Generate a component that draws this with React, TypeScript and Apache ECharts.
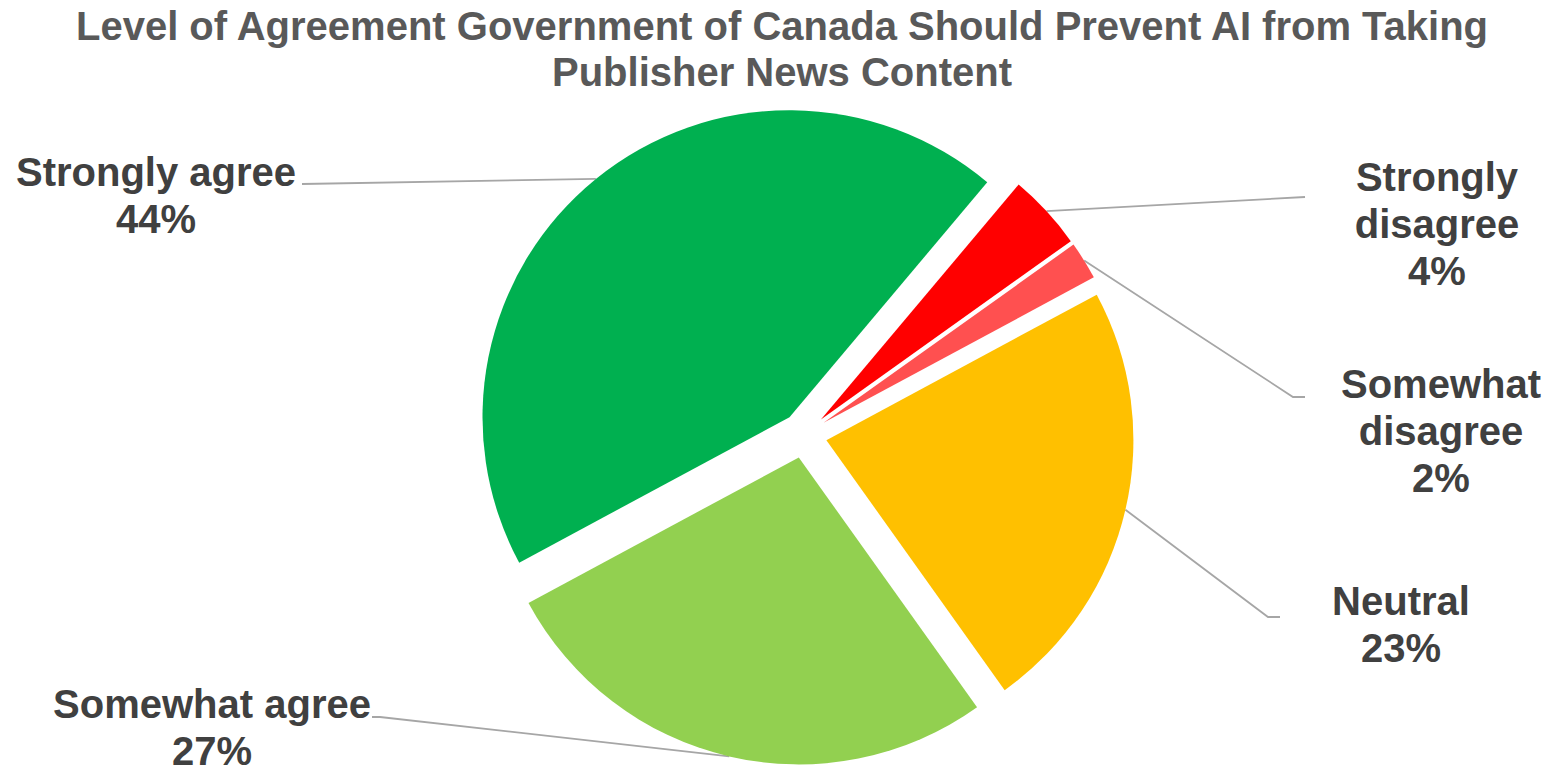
import React, { useEffect, useRef } from 'react';
import * as echarts from 'echarts';

// ---- data ----
const categories = ['Strongly agree', 'Strongly disagree', 'Somewhat disagree', 'Neutral', 'Somewhat agree'];
const values = [44, 4, 2, 23, 27];
const labelTexts = ['Strongly agree', 'Strongly\ndisagree', 'Somewhat\ndisagree', 'Neutral', 'Somewhat agree'];
const colors = ['#00B050', '#FF0000', '#FF5050', '#FFC000', '#92D050'];
const titleText = 'Level of Agreement Government of Canada Should Prevent AI from Taking\nPublisher News Content';

// ---- layout ----
const CX = 804;
const CY = 435;
const RADIUS = 307;
const START_ANGLE = 208.3;
const EXPLODE = 23;
const labelPos: number[][] = [[156, 195], [1437, 224], [1441, 431], [1401, 624], [212, 727]];
const lineEnds: number[][][] = [
  [[302, 184]],
  [[1305, 197]],
  [[1293, 397], [1305, 397]],
  [[1268, 617], [1280, 617]],
  [[380, 717], [372, 717]],
];

const FONT = "'Liberation Sans', Arial, sans-serif";

function buildSeries() {
  const total = values.reduce((a, b) => a + b, 0);
  const start = (-START_ANGLE * Math.PI) / 180;
  let cum = 0;
  return values.map((v, k) => {
    const mid = start + ((cum + v / 2) / total) * Math.PI * 2;
    cum += v;
    const center = [CX + Math.cos(mid) * EXPLODE, CY + Math.sin(mid) * EXPLODE];
    return {
      type: 'pie',
      name: categories[k],
      center,
      radius: RADIUS,
      startAngle: START_ANGLE,
      clockwise: true,
      avoidLabelOverlap: false,
      silent: true,
      emphasis: { disabled: true },
      itemStyle: { borderWidth: 0 },
      label: {
        show: false,
        position: 'outside',
        formatter: (p: any) => labelTexts[p.dataIndex] + '\n' + p.value + '%',
        fontFamily: FONT,
        fontSize: 40,
        fontWeight: 'bold',
        color: '#404040',
        lineHeight: 47,
        align: 'center',
      },
      labelLine: {
        show: false,
        length: 20,
        length2: 20,
        lineStyle: { color: '#A6A6A6', width: 1.8 },
      },
      labelLayout: (params: any) => {
        const i = params.dataIndex;
        const pts = params.labelLinePoints;
        const res: any = {
          x: labelPos[i][0],
          y: labelPos[i][1],
          align: 'center',
          verticalAlign: 'middle',
        };
        if (pts && pts[0]) res.labelLinePoints = [pts[0], ...lineEnds[i]];
        return res;
      },
      data: categories.map((name, i) => ({
        name,
        value: values[i],
        itemStyle: { color: i === k ? colors[i] : 'rgba(0,0,0,0)' },
        label: { show: i === k },
        labelLine: { show: i === k },
      })),
    };
  });
}

export default function App() {
  const ref = useRef<HTMLDivElement>(null);
  useEffect(() => {
    document.body.style.margin = '0';
    if (!ref.current) return;
    const chart = echarts.init(ref.current, undefined, { renderer: 'svg' });
    chart.setOption({
      animation: false,
      backgroundColor: '#ffffff',
      title: {
        text: titleText,
        left: 782,
        top: 3,
        padding: 0,
        textAlign: 'center',
        textStyle: {
          fontFamily: FONT,
          fontSize: 40,
          fontWeight: 'bold',
          color: '#595959',
          lineHeight: 46,
        },
      },
      series: buildSeries(),
    });
    return () => chart.dispose();
  }, []);
  return <div ref={ref} style={{ width: 1557, height: 773 }} />;
}
